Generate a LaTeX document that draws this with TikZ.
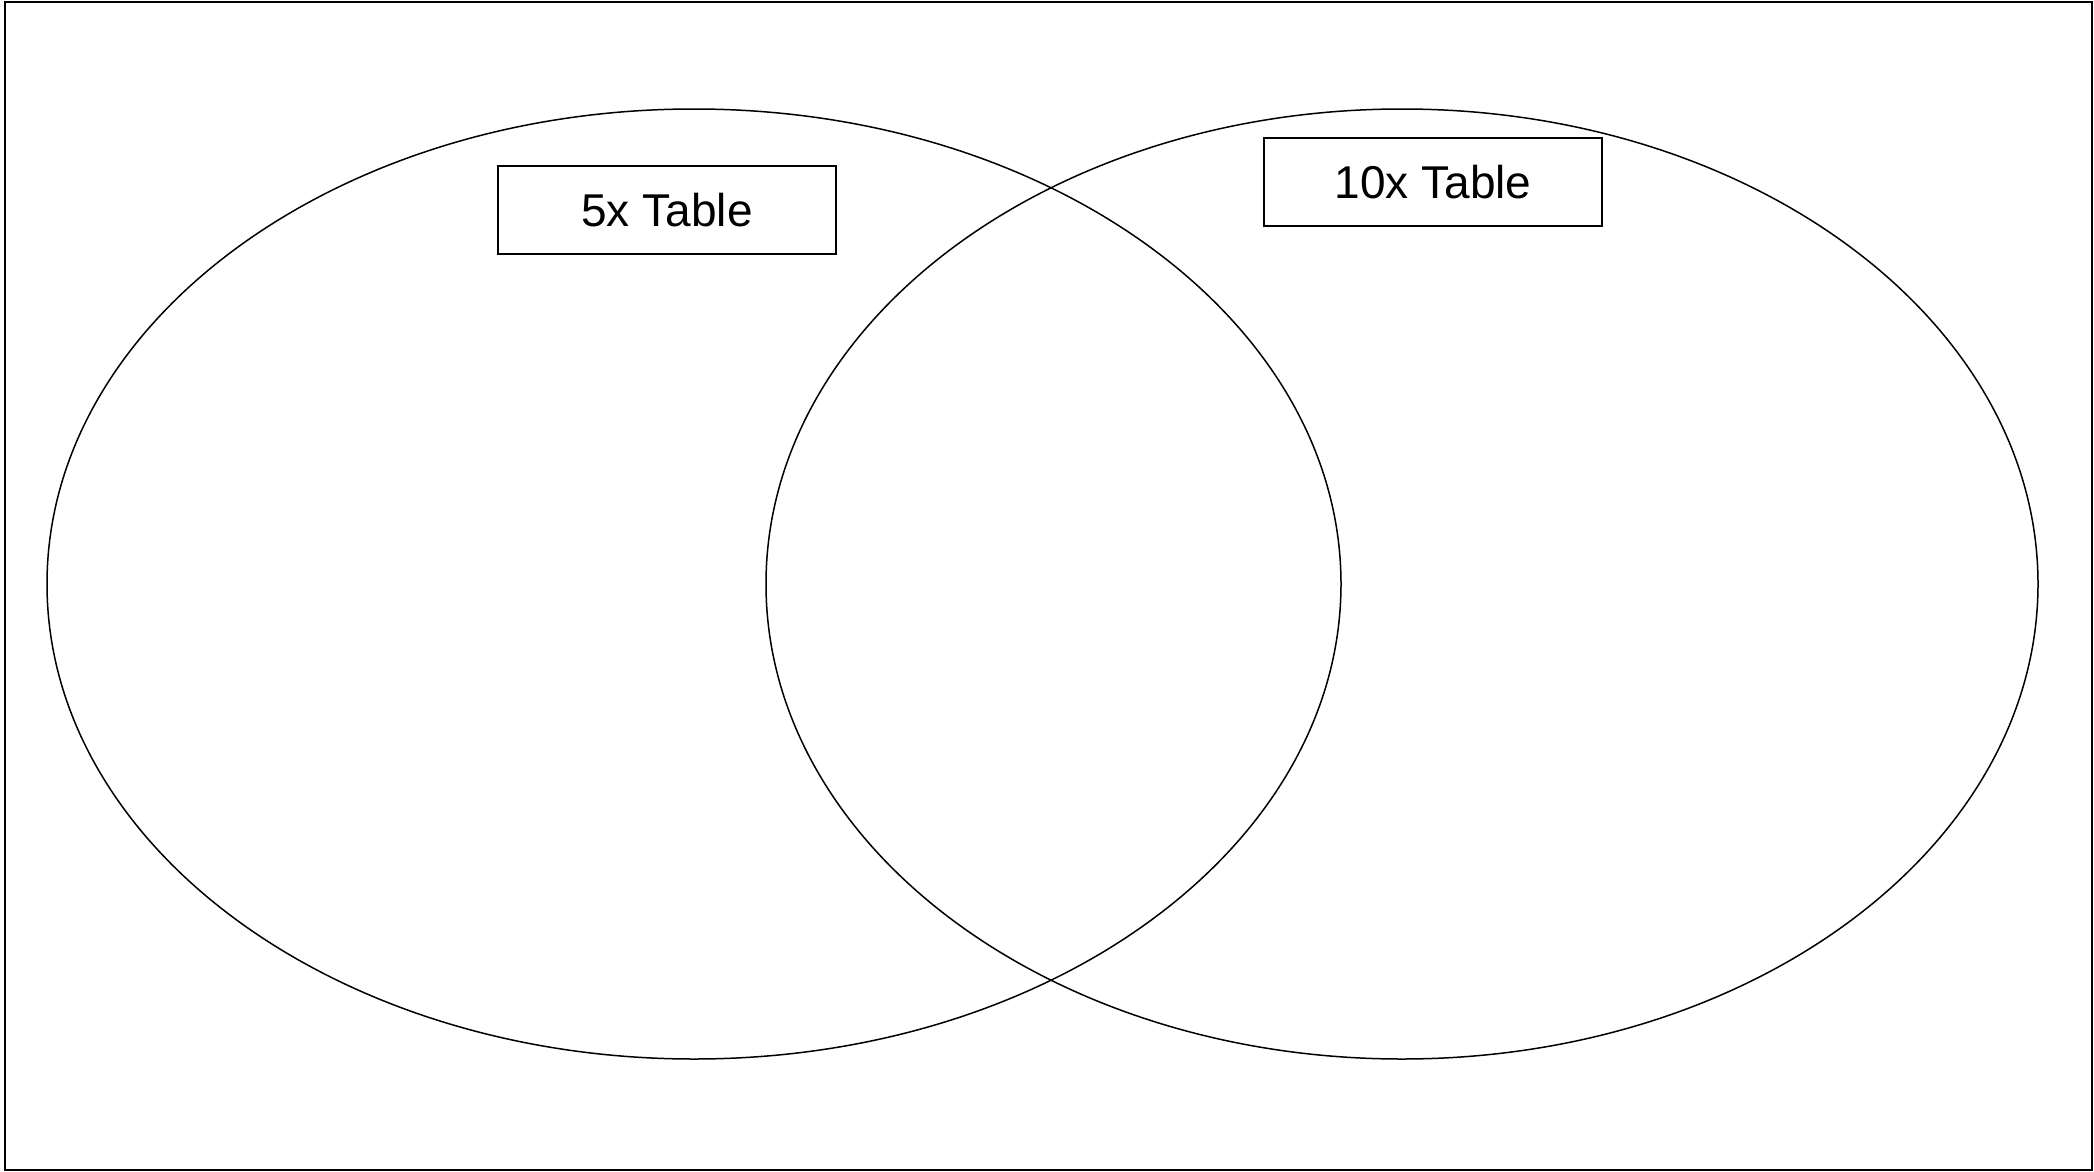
\documentclass[tikz,border=0pt]{standalone}
\usepackage{fontspec}
\setmainfont{Liberation Sans}
\begin{document}
\begin{tikzpicture}[x=1pt,y=-1pt,
    labelbox/.style={draw,line width=1.6pt,minimum width=338pt,minimum height=88pt,
      inner sep=0pt,font=\fontsize{46}{52}\selectfont}]
    \useasboundingbox (0,0) rectangle (2094,1172);
    % outer frame
    \draw[line width=2.6pt] (5,2) rectangle (2092,1170);
    % the two sets
    \draw[line width=1.5pt] (694,584) ellipse [x radius=647, y radius=475];
    \draw[line width=1.5pt] (1402,584) ellipse [x radius=636, y radius=475];
    % set labels
    \node[labelbox] (five) at (667,210) {5x Table};
    \node[labelbox] (ten) at (1433,182) {10x Table};
\end{tikzpicture}
\end{document}
